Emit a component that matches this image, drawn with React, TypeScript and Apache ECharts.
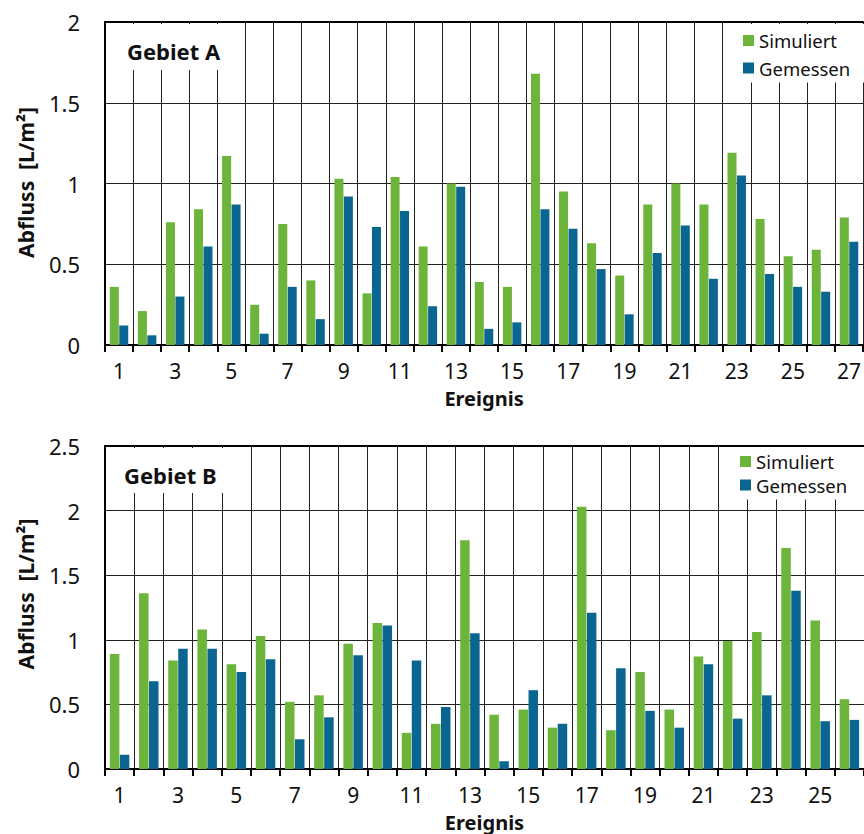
import React, { useEffect, useRef } from "react";
import * as echarts from "echarts";

const categoriesA = ["1","2","3","4","5","6","7","8","9","10","11","12","13","14","15","16","17","18","19","20","21","22","23","24","25","26","27"];
const categoriesB = ["1","2","3","4","5","6","7","8","9","10","11","12","13","14","15","16","17","18","19","20","21","22","23","24","25","26"];

const simuliertA = [0.36,0.21,0.76,0.84,1.17,0.25,0.75,0.40,1.03,0.32,1.04,0.61,1.00,0.39,0.36,1.68,0.95,0.63,0.43,0.87,1.00,0.87,1.19,0.78,0.55,0.59,0.79];
const gemessenA = [0.12,0.06,0.30,0.61,0.87,0.07,0.36,0.16,0.92,0.73,0.83,0.24,0.98,0.10,0.14,0.84,0.72,0.47,0.19,0.57,0.74,0.41,1.05,0.44,0.36,0.33,0.64];
const simuliertB = [0.89,1.36,0.84,1.08,0.81,1.03,0.52,0.57,0.97,1.13,0.28,0.35,1.77,0.42,0.46,0.32,2.03,0.30,0.75,0.46,0.87,0.99,1.06,1.71,1.15,0.54];
const gemessenB = [0.11,0.68,0.93,0.93,0.75,0.85,0.23,0.40,0.88,1.11,0.84,0.48,1.05,0.06,0.61,0.35,1.21,0.78,0.45,0.32,0.81,0.39,0.57,1.38,0.37,0.38];

const yMaxA = 2;
const yMaxB = 2.5;
const yStep = 0.5;

const GREEN = "#6cb43a";
const BLUE = "#0a6690";
const FONT = '"Noto Sans", sans-serif';
const INK = "#111";
const Y_NAME = "Abfluss\u00a0\u00a0[L/m²]";

function xAxes(gridIndex: number, data: string[]) {
  return [
    {
      type: "category",
      gridIndex,
      data,
      boundaryGap: true,
      axisLine: { show: true, lineStyle: { color: "#000", width: 2 } },
      axisTick: { show: true, interval: 0, length: 7, lineStyle: { color: "#000", width: 2 } },
      axisLabel: { interval: 1, margin: 15, fontSize: 21, color: INK, fontFamily: FONT },
      splitLine: { show: true, interval: 0, lineStyle: { color: "#222", width: 1 } },
      name: "Ereignis",
      nameLocation: "middle",
      nameGap: 43,
      nameTextStyle: { fontWeight: "bold", fontSize: 20, color: INK, fontFamily: FONT },
    },
    {
      type: "category",
      gridIndex,
      data,
      position: "top",
      axisLine: { show: true, lineStyle: { color: "#000", width: 2 } },
      axisTick: { show: false },
      axisLabel: { show: false },
      splitLine: { show: false },
    },
  ];
}

function yAxis(gridIndex: number, max: number) {
  return {
    type: "value",
    gridIndex,
    min: 0,
    max,
    interval: yStep,
    axisLine: { show: true, lineStyle: { color: "#000", width: 2 } },
    axisTick: { show: false },
    axisLabel: { margin: 25, fontSize: 22, color: INK, fontFamily: FONT },
    splitLine: { show: true, lineStyle: { color: "#222", width: 1 } },
  };
}

function legend(left: number, top: number, gap: number, padding: number[]) {
  return {
    data: ["Simuliert", "Gemessen"],
    orient: "vertical",
    left,
    top,
    padding,
    itemGap: gap,
    itemWidth: 11,
    itemHeight: 11,
    icon: "rect",
    backgroundColor: "#fff",
    textStyle: { fontSize: 18.5, color: INK, fontFamily: FONT },
    z: 10,
  };
}

function yName(x: number, y: number) {
  return {
    type: "text",
    x,
    y,
    rotation: Math.PI / 2,
    z: 6,
    style: {
      text: Y_NAME,
      fill: INK,
      font: `bold 21px ${FONT}`,
      align: "center",
      verticalAlign: "middle",
    },
  };
}

export default function App() {
  const ref = useRef<HTMLDivElement>(null);
  useEffect(() => {
    if (!ref.current) return;
    const chart = echarts.init(ref.current, undefined, { renderer: "svg" });
    const bar = (name: string, color: string, data: number[], idx: number, w: number) => ({
      name,
      type: "bar",
      xAxisIndex: idx * 2,
      yAxisIndex: idx,
      data,
      barWidth: w,
      barGap: "5%",
      itemStyle: { color },
      z: 3,
    });
    chart.setOption({
      animation: false,
      backgroundColor: "#fff",
      grid: [
        { left: 105, top: 22, width: 761, height: 323 },
        { left: 105, top: 446, width: 761, height: 323 },
      ],
      xAxis: [...xAxes(0, categoriesA), ...xAxes(1, categoriesB)],
      yAxis: [yAxis(0, yMaxA), yAxis(1, yMaxB)],
      legend: [
        legend(735, 24, 8.5, [7, 40, 5, 8]),
        legend(730, 447, 4.5, [5, 40, 5, 10]),
      ],
      graphic: [
        { type: "rect", shape: { x: 107, y: 24, width: 125, height: 46 }, style: { fill: "#fff" }, z: 5 },
        { type: "text", x: 127, y: 51, z: 6, style: { text: "Gebiet A", fill: INK, font: `bold 22px ${FONT}`, verticalAlign: "middle" } },
        { type: "rect", shape: { x: 107, y: 448, width: 133, height: 45 }, style: { fill: "#fff" }, z: 5 },
        { type: "text", x: 124, y: 475, z: 6, style: { text: "Gebiet B", fill: INK, font: `bold 22px ${FONT}`, verticalAlign: "middle" } },
        yName(26, 182.5),
        yName(26, 594),
      ],
      series: [
        bar("Simuliert", GREEN, simuliertA, 0, 9),
        bar("Gemessen", BLUE, gemessenA, 0, 9),
        bar("Simuliert", GREEN, simuliertB, 1, 9.5),
        bar("Gemessen", BLUE, gemessenB, 1, 9.5),
      ],
    });
    return () => chart.dispose();
  }, []);
  return (
    <div
      ref={ref}
      style={{ position: "fixed", left: 0, top: 0, width: 864, height: 834, background: "#fff" }}
    />
  );
}
